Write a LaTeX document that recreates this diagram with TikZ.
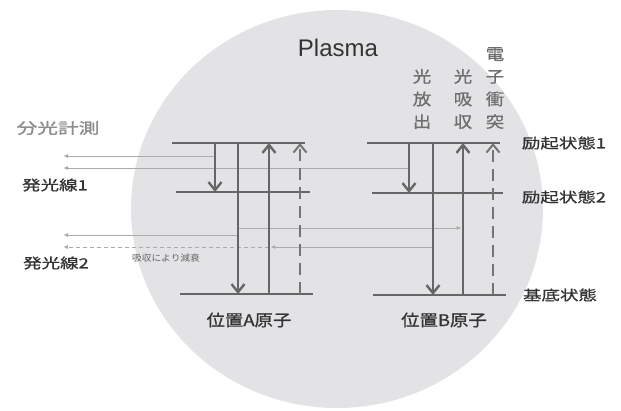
\documentclass[tikz,border=0pt]{standalone}
\usepackage{fontspec}
\setmainfont{Liberation Sans}
\newfontfamily\jpA[FakeStretch=1.32,FakeBold=0.8]{Noto Sans CJK JP}
\newfontfamily\jpS[FakeStretch=1.38,FakeBold=1.2]{Noto Sans CJK JP}
\newfontfamily\jpB[FakeStretch=1.15,FakeBold=0.8]{Noto Sans CJK JP}
\newfontfamily\jpC[FakeStretch=1.08]{Noto Sans CJK JP}
\usetikzlibrary{arrows.meta}
\definecolor{plasmagray}{HTML}{E3E3E5}
\definecolor{lvl}{HTML}{666666}
\definecolor{dashgray}{HTML}{747474}
\definecolor{thingray}{HTML}{ABABAB}
\definecolor{txt}{HTML}{333333}
\definecolor{vtxt}{HTML}{6E6E6E}
\definecolor{ttl}{HTML}{8C8C8C}
\tikzset{
  levelline/.style={draw=lvl, line width=1.6pt},
  transarrow/.style={draw=lvl, line width=2.4pt, -{Straight Barb[length=8pt,width=13pt]}},
  collarrow/.style={draw=dashgray, line width=2pt, dash pattern=on 12pt off 7pt, -{Straight Barb[length=8pt,width=13pt]}},
  lightarrow/.style={draw=thingray, line width=0.9pt, -{Latex[length=5pt,width=4pt]}},
  lightdashed/.style={draw=thingray, line width=0.9pt, dash pattern=on 4pt off 3pt, -{Latex[length=5pt,width=4pt]}},
  statelabel/.style={font=\jpA\fontsize{14}{16}\selectfont, text=txt, inner sep=0pt},
  linelabel/.style={font=\jpA\fontsize{14}{16}\selectfont, text=txt, inner sep=0pt},
  atomlabel/.style={font=\jpB\fontsize{16}{18}\selectfont, text=txt, inner sep=0pt},
  vlabel/.style={font=\jpB\fontsize{16}{22.6}\selectfont, text=vtxt, align=center, inner sep=0pt},
}
\begin{document}
\begin{tikzpicture}[x=1pt,y=-1pt]
\useasboundingbox (0,0) rectangle (621,411);
\fill[white] (0,0) rectangle (621,411);
% plasma
\fill[plasmagray] (337,209) ellipse [x radius=206, y radius=199];
\node[font=\fontsize{24}{26}\selectfont, text=txt, inner sep=0pt] (plasma) at (338,48) {Plasma};

% level endpoints, atom A
\coordinate (a1w) at (172,143); \coordinate (a1e) at (305,143);
\coordinate (a2w) at (176,192); \coordinate (a2e) at (310,192);
\coordinate (a0w) at (180,294); \coordinate (a0e) at (313,294);
% atom B
\coordinate (b1w) at (367,143); \coordinate (b1e) at (500,143);
\coordinate (b2w) at (372,193); \coordinate (b2e) at (503,193);
\coordinate (b0w) at (373,295); \coordinate (b0e) at (506,295);

% transition end points, atom A
\coordinate (aet) at (215,143); \coordinate (aeb) at (215,192);
\coordinate (alt) at (238,143); \coordinate (alb) at (238,294);
\coordinate (aut) at (269,143); \coordinate (aub) at (269,294);
\coordinate (act) at (300,143); \coordinate (acb) at (300,294);
% atom B
\coordinate (bet) at (409,143); \coordinate (beb) at (409,193);
\coordinate (blt) at (433,143); \coordinate (blb) at (433,295);
\coordinate (but) at (463,143); \coordinate (bub) at (463,295);
\coordinate (bct) at (493,143); \coordinate (bcb) at (493,295);

% light paths
\coordinate (s1) at (215,156); \coordinate (e1) at (63,156);
\coordinate (s2) at (409,168); \coordinate (e2) at (63,168);
\coordinate (s3) at (238,228); \coordinate (e3) at (461.6,228);
\coordinate (s4) at (238,235); \coordinate (e4) at (63,235);
\coordinate (s5) at (433,247); \coordinate (m5) at (270.4,247);
\coordinate (d5) at (269,247); \coordinate (e5) at (63,247);

\draw[lightarrow] (s1) -- (e1);
\draw[lightarrow] (s2) -- (e2);
\draw[lightarrow] (s3) -- (e3);
\draw[lightarrow] (s4) -- (e4);
\draw[lightarrow] (s5) -- (m5);
\draw[lightdashed] (d5) -- (e5);

% levels
\draw[levelline] (a1w) -- (a1e);
\draw[levelline] (a2w) -- (a2e);
\draw[levelline] (a0w) -- (a0e);
\draw[levelline] (b1w) -- (b1e);
\draw[levelline] (b2w) -- (b2e);
\draw[levelline] (b0w) -- (b0e);

% transitions
\draw[transarrow] (aet) -- (aeb);
\draw[transarrow] (alt) -- (alb);
\draw[transarrow] (aub) -- (aut);
\draw[collarrow] (acb) -- (act);
\draw[transarrow] (bet) -- (beb);
\draw[transarrow] (blt) -- (blb);
\draw[transarrow] (bub) -- (but);
\draw[collarrow] (bcb) -- (bct);

% labels
\node[font=\jpS\fontsize{15}{17}\selectfont, text=ttl, inner sep=0pt] (spec) at (58,128) {分光計測};
\node[linelabel] (line1) at (55,185) {発光線1};
\node[linelabel] (line2) at (56,263) {発光線2};
\node[font=\jpC\fontsize{9}{10}\selectfont, text=lvl, inner sep=0pt] (atten) at (166,258) {吸収により減衰};
\node[statelabel] (ex1) at (564,143) {励起状態1};
\node[statelabel] (ex2) at (564,197) {励起状態2};
\node[statelabel] (gnd) at (560,295) {基底状態};
\node[atomlabel] (atomA) at (249,320) {位置A原子};
\node[atomlabel] (atomB) at (444,320) {位置B原子};
\node[vlabel] (vemit) at (422,99) {光\\放\\出};
\node[vlabel] (vabs) at (463,99) {光\\吸\\収};
\node[vlabel] (vcoll) at (495,88) {電\\子\\衝\\突};
\end{tikzpicture}
\end{document}
